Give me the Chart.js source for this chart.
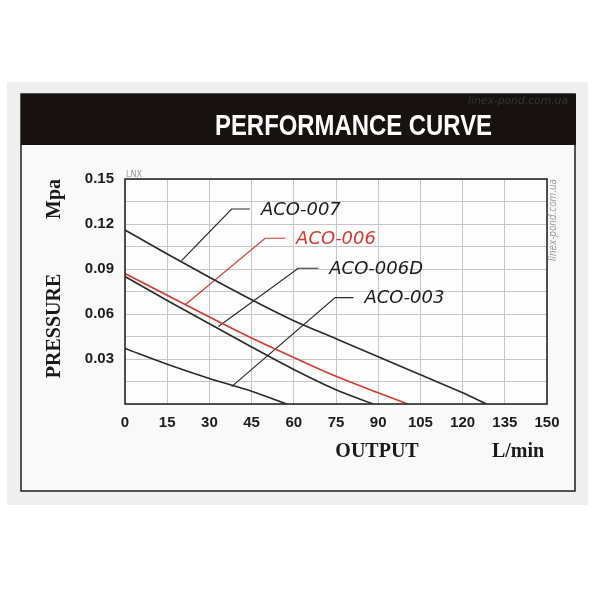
<!DOCTYPE html>
<html>
<head>
<meta charset="utf-8">
<title>Performance curve</title>
<script src="https://cdn.jsdelivr.net/npm/chart.js@4.4.0/dist/chart.umd.min.js"></script>
<style>
  html, body { margin: 0; padding: 0; background: #fff; }
  canvas { display: block; }
</style>
</head>
<body>
<canvas id="curve" width="600" height="600"></canvas>
<script>
// pump curves: output (L/min) against pressure (MPa)
const aco007Flow = [0, 15, 30, 45, 60, 75, 90, 105, 120, 128.5];
const aco007Pres = [0.116, 0.100, 0.0845, 0.0695, 0.0555, 0.0435, 0.0315, 0.0195, 0.0075, 0];
const aco006Flow = [0, 15, 30, 45, 60, 75, 90, 100.5];
const aco006Pres = [0.087, 0.0725, 0.058, 0.044, 0.031, 0.0185, 0.0075, 0];
const aco006dFlow = [0, 15, 30, 45, 60, 75, 88.3];
const aco006dPres = [0.085, 0.069, 0.0535, 0.038, 0.023, 0.0095, 0];
const aco003Flow = [0, 15, 30, 45, 57.5];
const aco003Pres = [0.037, 0.0265, 0.017, 0.0085, 0];

const seriesNames = ['ACO-007', 'ACO-006', 'ACO-006D', 'ACO-003'];

// leader lines: point on the curve, the bend, end of the shelf under the name
const leaderFlow = [
  [20.1, 37.9, 44.4],
  [21.3, 49.8, 56.9],
  [33.2, 61.6, 68.7],
  [37.9, 74.7, 81.2]
];
const leaderPres = [
  [0.0956, 0.130, 0.130],
  [0.066, 0.1105, 0.1105],
  [0.0516, 0.0905, 0.0905],
  [0.0116, 0.0709, 0.0709]
];

const xTicks = [0, 15, 30, 45, 60, 75, 90, 105, 120, 135, 150];
const yTicks = [0, 0.015, 0.03, 0.045, 0.06, 0.075, 0.09, 0.105, 0.12, 0.135, 0.15];
const yLabelled = [0.03, 0.06, 0.09, 0.12, 0.15];

const INK = '#2a2a2a';
const RED = '#d43a30';

function toPoints(xs, ys) {
  return xs.map((x, i) => ({ x: x, y: ys[i] }));
}

function colourFor(name) {
  return name === 'ACO-006' ? RED : INK;
}

const curves = [
  [aco007Flow, aco007Pres],
  [aco006Flow, aco006Pres],
  [aco006dFlow, aco006dPres],
  [aco003Flow, aco003Pres]
];

let datasets = [];
curves.forEach((c, i) => {
  datasets.push({
    label: seriesNames[i],
    data: toPoints(c[0], c[1]),
    borderColor: colourFor(seriesNames[i]),
    borderWidth: 1.6,
    cubicInterpolationMode: 'monotone',
    pointRadius: 0
  });
});
seriesNames.forEach((name, i) => {
  datasets.push({
    label: name + ' leader',
    data: toPoints(leaderFlow[i], leaderPres[i]),
    borderColor: colourFor(name),
    borderWidth: 1.2,
    tension: 0,
    pointRadius: 0
  });
});

// frame, header bar and all the loose text of the sheet
const sheet = {
  id: 'sheet',
  beforeDraw(chart) {
    const c = chart.ctx;
    const a = chart.chartArea;
    c.save();
    c.fillStyle = '#efefef';
    c.fillRect(7, 82, 581, 423);
    c.fillStyle = '#f9f9f9';
    c.fillRect(21, 94, 554, 397);
    c.strokeStyle = '#1e1e1e';
    c.lineWidth = 1.5;
    c.strokeRect(21, 94, 554, 397);
    c.fillStyle = '#17120f';
    c.fillRect(21, 94, 555, 51);

    c.fillStyle = '#ffffff';
    c.font = 'bold 30px "Liberation Sans", Arial, sans-serif';
    c.textBaseline = 'alphabetic';
    c.textAlign = 'left';
    c.fillText('PERFORMANCE CURVE', 215, 135, 277);

    c.fillStyle = '#3a3532';
    c.font = 'italic 11px "DejaVu Sans", sans-serif';
    c.fillText('linex-pond.com.ua', 468, 104, 100);

    c.fillStyle = '#fdfdfd';
    c.fillRect(a.left, a.top, a.right - a.left, a.bottom - a.top);
    c.restore();
  },
  afterDraw(chart) {
    const c = chart.ctx;
    const a = chart.chartArea;
    const xs = chart.scales.x;
    const ys = chart.scales.y;
    c.save();
    c.strokeStyle = INK;
    c.lineWidth = 1.6;
    c.strokeRect(a.left, a.top, a.right - a.left, a.bottom - a.top);

    // series names at the end of each leader
    c.font = 'italic 18px "DejaVu Sans", sans-serif';
    c.textAlign = 'left';
    c.textBaseline = 'middle';
    seriesNames.forEach((name, i) => {
      const last = leaderFlow[i].length - 1;
      const px = xs.getPixelForValue(leaderFlow[i][last]);
      const py = ys.getPixelForValue(leaderPres[i][last]);
      c.fillStyle = colourFor(name) === RED ? RED : '#1c1c1c';
      c.fillText(name, px + 11, py + 1);
    });

    // axis titles
    c.fillStyle = '#1a1a1a';
    c.font = 'bold 20px "Liberation Serif", "Times New Roman", serif';
    c.textAlign = 'center';
    c.textBaseline = 'middle';
    c.fillText('OUTPUT', 377, 452, 84);
    c.fillText('L/min', 518, 452);
    c.save();
    c.translate(55, 326);
    c.rotate(-Math.PI / 2);
    c.fillText('PRESSURE', 0, 0);
    c.restore();
    c.save();
    c.translate(55, 199);
    c.rotate(-Math.PI / 2);
    c.fillText('Mpa', 0, 0);
    c.restore();

    // watermarks
    c.fillStyle = '#9a9a9a';
    c.font = '8px "DejaVu Sans", sans-serif';
    c.textAlign = 'left';
    c.textBaseline = 'alphabetic';
    c.fillText('LNX', a.left + 1, a.top - 2);
    c.save();
    c.translate(553, 220);
    c.rotate(-Math.PI / 2);
    c.font = 'italic 10px "DejaVu Sans", sans-serif';
    c.textAlign = 'center';
    c.textBaseline = 'middle';
    c.fillText('linex-pond.com.ua', 0, 0, 82);
    c.restore();
    c.restore();
  }
};

const tickFont = { family: '"Liberation Sans", Arial, sans-serif', size: 15, weight: 'bold' };

const ctx = document.getElementById('curve').getContext('2d');
const chart = new Chart(ctx, {
  type: 'line',
  data: { datasets: datasets },
  plugins: [sheet],
  options: {
    responsive: false,
    animation: false,
    layout: { padding: { left: 0, right: 53, top: 179, bottom: 166 } },
    plugins: {
      legend: { display: false },
      tooltip: { enabled: false }
    },
    scales: {
      x: {
        type: 'linear',
        min: 0,
        max: 150,
        afterBuildTicks: (scale) => { scale.ticks = xTicks.map(v => ({ value: v })); },
        afterFit: (scale) => { scale.height = 30; },
        grid: { color: '#c6c6c6', lineWidth: 1, drawTicks: false },
        border: { display: false },
        ticks: {
          color: '#1c1c1c',
          font: tickFont,
          padding: 10,
          maxRotation: 0,
          autoSkip: false,
          callback: (v) => String(v)
        }
      },
      y: {
        type: 'linear',
        min: 0,
        max: 0.15,
        afterBuildTicks: (scale) => { scale.ticks = yTicks.map(v => ({ value: v })); },
        afterFit: (scale) => { scale.width = 125; },
        grid: { color: '#c6c6c6', lineWidth: 1, drawTicks: false },
        border: { display: false },
        ticks: {
          color: '#1c1c1c',
          font: tickFont,
          padding: 11,
          autoSkip: false,
          callback: (v) => yLabelled.includes(v) ? v.toFixed(2) : ''
        }
      }
    }
  }
});
</script>
</body>
</html>
